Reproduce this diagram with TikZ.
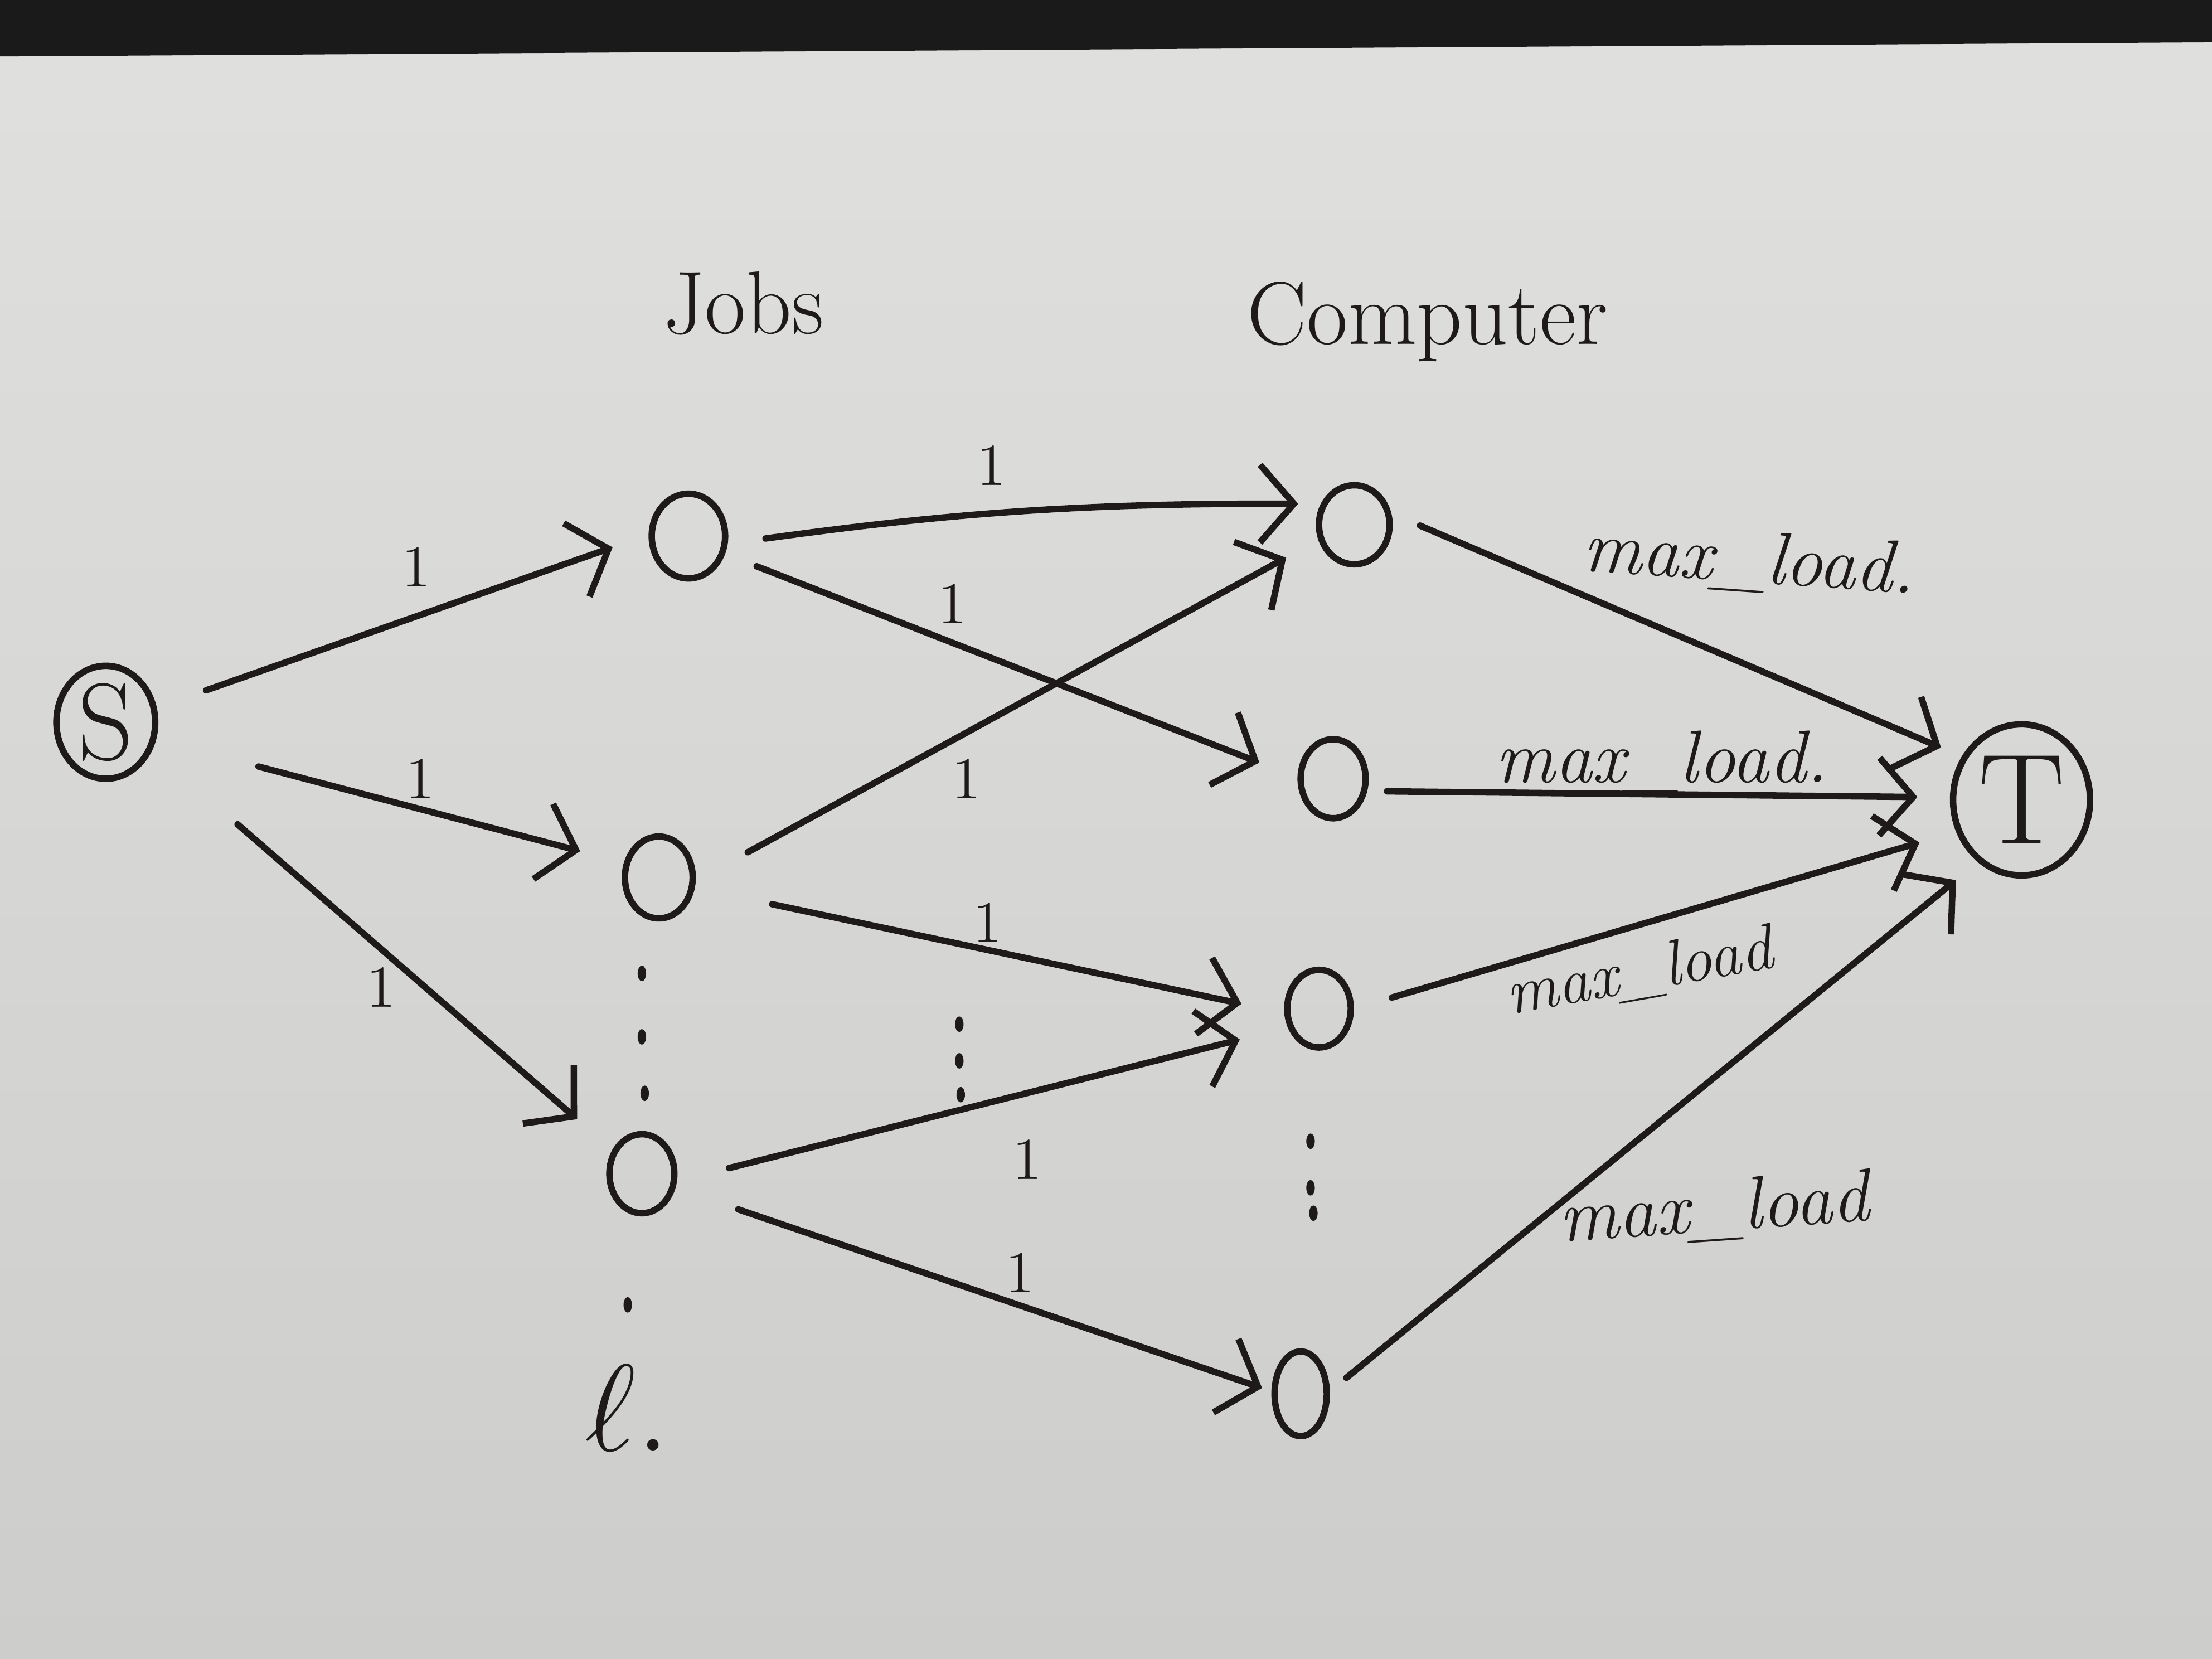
\documentclass[tikz,border=0pt]{standalone}
\usetikzlibrary{shapes.geometric,arrows.meta}
\definecolor{paper}{HTML}{E0E0DE}
\definecolor{paperdark}{HTML}{CDCDCB}
\definecolor{ink}{HTML}{1E1A1A}
\definecolor{desk}{HTML}{1A1A1A}
\begin{document}
\begin{tikzpicture}[x=0.01cm,y=-0.01cm,
  job/.style={ellipse, draw=ink, line width=1.3pt, inner sep=0pt},
  term/.style={ellipse, draw=ink, line width=1.3pt, inner sep=0pt, text=ink},
  arr/.style={draw=ink, line width=1.3pt, line cap=round, -{Straight Barb[length=2.4mm,width=5.5mm,line width=1.3pt]}},
  one/.style={text=ink, font=\fontsize{12}{12}\selectfont},
  head/.style={text=ink, font=\fontsize{18}{18}\selectfont},
  ml/.style={text=ink, font=\itshape\fontsize{15}{15}\selectfont},
  dotm/.style={fill=ink}]
\useasboundingbox (0,0) rectangle (1568,1176);
\shade[top color=paper, bottom color=paperdark] (0,0) rectangle (1568,1176);
\fill[desk] (0,0) -- (1568,0) -- (1568,30) -- (0,40) -- cycle;

% headers
\node[head] (jobs) at (527,215) {Jobs};
\node[head] (comp) at (1012,228) {Computer};

% nodes
\node[term, minimum width=0.7cm, minimum height=0.8cm, font=\fontsize{22}{22}\selectfont] (S) at (75,512) {S};
\node[term, minimum width=0.97cm, minimum height=1.07cm, font=\fontsize{26}{26}\selectfont] (T) at (1433,567) {T};
\node[job, minimum width=0.52cm, minimum height=0.6cm] (J1) at (488,380) {};
\node[job, minimum width=0.48cm, minimum height=0.58cm] (J2) at (467,622) {};
\node[job, minimum width=0.46cm, minimum height=0.56cm] (J3) at (455,832) {};
\node[job, minimum width=0.5cm, minimum height=0.56cm] (C1) at (960,372) {};
\node[job, minimum width=0.46cm, minimum height=0.56cm] (C2) at (945,552) {};
\node[job, minimum width=0.45cm, minimum height=0.55cm] (C3) at (935,715) {};
\node[job, minimum width=0.37cm, minimum height=0.6cm] (C4) at (922,988) {};

% edges source -> jobs
\draw[arr, shorten <=3.7mm, shorten >=2.7mm] (S.16) -- (J1.178);
\draw[arr, shorten <=7.5mm, shorten >=3.2mm] (S.-19) -- (J2.157);
\draw[arr, shorten <=8mm, shorten >=3.3mm] (S.-31) -- (J3.141);
% jobs -> computers
\draw[arr, shorten <=2.7mm, shorten >=1.6mm] (J1.-11) to[bend left=4] (C1.148);
\draw[arr, shorten <=2.4mm, shorten >=2.9mm] (J1.-26) -- (C2.178);
\draw[arr, shorten <=4.2mm, shorten >=2.6mm] (J2.-5) -- (C1.203);
\draw[arr, shorten <=5.6mm, shorten >=3.1mm] (J2.-16) -- (C3.187);
\draw[arr, shorten <=3.8mm, shorten >=3.5mm] (J3.-12) -- (C3.211);
\draw[arr, shorten <=4.7mm, shorten >=0.7mm] (J3.-23) -- (C4.175);
% computers -> sink
\draw[arr, shorten <=2.2mm, shorten >=1.6mm] (C1.17) -- (T.144);
\draw[arr, shorten <=1.4mm, shorten >=2.3mm] (C2.-20) -- (T.178);
\draw[arr, shorten <=2.8mm, shorten >=2.7mm] (C3.0) -- (T.206);
\draw[arr, shorten <=1.5mm, shorten >=2mm] (C4.5) -- (T.235);

% capacity labels
\node[one] (c1) at (295,402) {1};
\node[one] (c2) at (298,552) {1};
\node[one] (c3) at (270,700) {1};
\node[one] (c4) at (703,330) {1};
\node[one] (c5) at (675,428) {1};
\node[one] (c6) at (685,552) {1};
\node[one] (c7) at (700,654) {1};
\node[one] (c8) at (728,822) {1};
\node[one] (c9) at (723,902) {1};
\node[ml, rotate=-4] (m1) at (1240,398) {max\_load.};
\node[ml] (m2) at (1178,540) {max\_load.};
\node[ml, rotate=10, font=\itshape\fontsize{13}{13}\selectfont] (m3) at (1162,690) {max\_load};
\node[ml, rotate=4] (m4) at (1215,858) {max\_load};

% ellipsis dots
\foreach \p in {(455,690),(455,735),(457,775),(445,925),(680,726),(680,752),(681,776),(929,809),(929,842),(931,860)}
  \fill[dotm] \p ellipse [x radius=0.3mm, y radius=0.55mm];
\node[head, font=\fontsize{28}{28}\selectfont] (ell) at (445,998) {$\ell$.};
\end{tikzpicture}
\end{document}
